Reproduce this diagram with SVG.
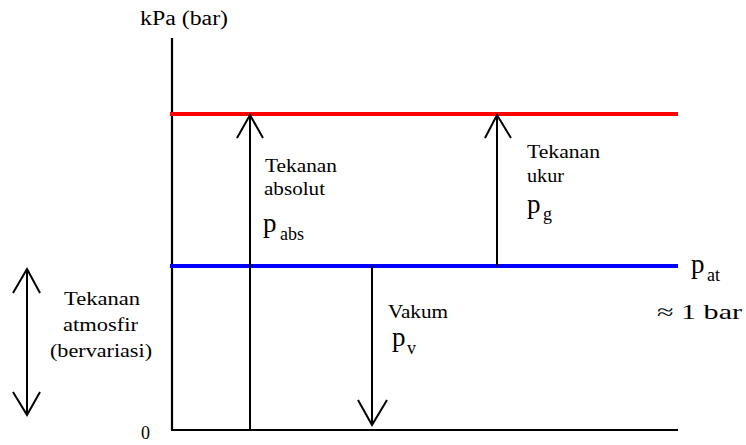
<svg xmlns="http://www.w3.org/2000/svg" width="746" height="445" viewBox="0 0 746 445">
<style>
text{font-family:"Liberation Serif","Times New Roman","DejaVu Serif","Noto Serif",serif;fill:#000}
.t{font-size:18px}
.p{font-size:27px}
.s{font-size:18px}
.ax{stroke:#000;stroke-width:2.2;fill:none}
.ar{stroke:#000;stroke-width:2;fill:none}
</style>
<rect width="746" height="445" fill="#fff"/>
<g id="axes">
<line class="ax" x1="172" y1="38" x2="172" y2="430"/>
<line class="ax" x1="171" y1="430" x2="678" y2="430"/>
<text x="140" y="25" font-size="20" textLength="88" lengthAdjust="spacingAndGlyphs">kPa (bar)</text>
<text x="141" y="439" font-size="18">0</text>
</g>
<g id="red-line"><line x1="170" y1="114" x2="678" y2="114" stroke="#ff0000" stroke-width="4"/></g>
<g id="blue-line"><line x1="170" y1="266" x2="678" y2="266" stroke="#0000ff" stroke-width="4"/></g>
<g id="connectors">
<line class="ar" x1="250" y1="430" x2="250" y2="115"/>
<polyline class="ar" points="237,138 250,115 263,138"/>
<line class="ar" x1="497" y1="266" x2="497" y2="115"/>
<polyline class="ar" points="485,138 497,115 511,138"/>
<line class="ar" x1="372" y1="266" x2="372" y2="425"/>
<polyline class="ar" points="358,400 372,425 387,400"/>
<line class="ar" x1="27" y1="269" x2="27" y2="415"/>
<polyline class="ar" points="13,293 27,269 40,293"/>
<polyline class="ar" points="13,392 27,415 40,392"/>
</g>
<g id="abs-label">
<text class="t" x="265" y="172" textLength="72" lengthAdjust="spacingAndGlyphs">Tekanan</text>
<text class="t" x="264" y="195" textLength="61" lengthAdjust="spacingAndGlyphs">absolut</text>
<text class="p" x="263" y="232">p</text>
<text class="s" x="280" y="240">abs</text>
</g>
<g id="gauge-label">
<text class="t" x="527" y="158" textLength="73" lengthAdjust="spacingAndGlyphs">Tekanan</text>
<text class="t" x="527" y="182" textLength="37" lengthAdjust="spacingAndGlyphs">ukur</text>
<text class="p" x="527" y="213">p</text>
<text class="s" x="543" y="220">g</text>
</g>
<g id="atm-label">
<text class="p" x="691" y="273">p</text>
<text class="s" x="707" y="281">at</text>
<text x="657" y="319" font-size="21" textLength="85" lengthAdjust="spacingAndGlyphs">≈ 1 bar</text>
</g>
<g id="atm-var-label">
<text class="t" x="64" y="305" textLength="76" lengthAdjust="spacingAndGlyphs">Tekanan</text>
<text class="t" x="63" y="331" textLength="75" lengthAdjust="spacingAndGlyphs">atmosfir</text>
<text class="t" x="50" y="357" textLength="102" lengthAdjust="spacingAndGlyphs">(bervariasi)</text>
</g>
<g id="vakum-label">
<text class="t" x="388" y="318" textLength="60" lengthAdjust="spacingAndGlyphs">Vakum</text>
<text class="p" x="392" y="346">p</text>
<text class="s" x="407" y="354">v</text>
</g>
</svg>
